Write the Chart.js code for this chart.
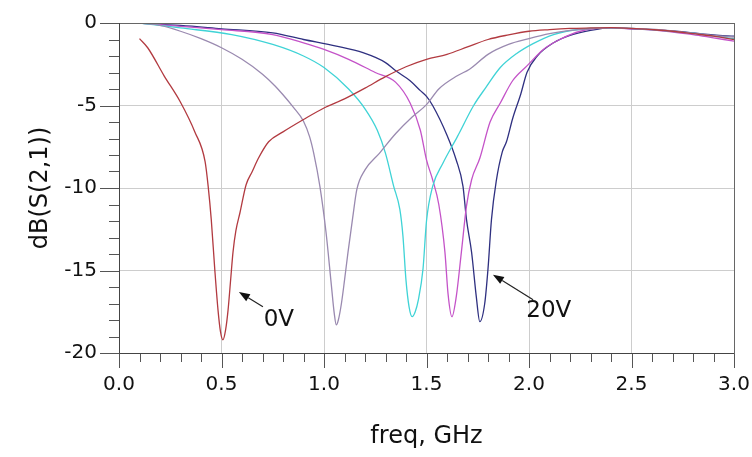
<!DOCTYPE html>
<html>
<head>
<meta charset="utf-8">
<script src="https://cdn.jsdelivr.net/npm/chart.js@4.4.1/dist/chart.umd.min.js"></script>
<style>
  html, body { margin: 0; padding: 0; background: #ffffff; }
  #wrap { width: 752px; height: 457px; position: relative; }
</style>
</head>
<body>
<div id="wrap"><canvas id="c" width="752" height="457"></canvas></div>
<script>
// ---------------- data ----------------
const seriesNames = ['0V', 'V2', 'V3', 'V4', '20V'];

const f0V = [0.1,0.14,0.22,0.3,0.37,0.42,0.435,0.45,0.467,0.483,0.495,0.507,0.52,0.532,0.545,0.556,0.57,0.59,0.62,0.65,0.68,0.73,0.8,0.9,1.0,1.1,1.2,1.3,1.4,1.5,1.6,1.7,1.8,1.9,2.0,2.1,2.2,2.3,2.4,2.5,2.6,2.7,2.8,2.9,3.0];
const s0V = [-0.95,-1.5,-3.2,-4.8,-6.6,-8.4,-9.9,-11.9,-14.9,-17.4,-18.7,-19.2,-18.6,-17.4,-15.5,-13.9,-12.6,-11.5,-9.8,-9.0,-8.2,-7.2,-6.6,-5.85,-5.15,-4.6,-3.95,-3.25,-2.65,-2.2,-1.9,-1.45,-1.0,-0.72,-0.5,-0.4,-0.33,-0.3,-0.28,-0.32,-0.4,-0.5,-0.65,-0.8,-1.0];

const fV2 = [0.1,0.2,0.3,0.4,0.5,0.6,0.7,0.76,0.8,0.85,0.9,0.93,0.95,0.98,1.01,1.036,1.05,1.06,1.07,1.085,1.1,1.117,1.14,1.16,1.2,1.27,1.35,1.43,1.5,1.56,1.65,1.71,1.8,1.9,2.0,2.1,2.2,2.3,2.4,2.5,2.6,2.7,2.8,2.9,3.0];
const sV2 = [0,-0.15,-0.5,-0.95,-1.5,-2.2,-3.1,-3.8,-4.35,-5.1,-5.95,-6.9,-7.9,-9.9,-12.7,-15.9,-17.6,-18.3,-18.0,-17.0,-15.6,-13.9,-11.8,-10.1,-8.9,-7.9,-6.7,-5.7,-4.95,-4.0,-3.2,-2.8,-1.9,-1.3,-0.95,-0.65,-0.45,-0.35,-0.3,-0.32,-0.38,-0.48,-0.62,-0.75,-0.85];

const fV3 = [0.1,0.3,0.55,0.75,0.9,1.0,1.12,1.2,1.26,1.3,1.34,1.37,1.385,1.4,1.415,1.43,1.445,1.46,1.483,1.5,1.53,1.58,1.65,1.73,1.79,1.86,1.94,2.02,2.12,2.25,2.4,2.5,2.6,2.7,2.8,2.9,3.0];
const sV3 = [0,-0.3,-0.7,-1.3,-2.0,-2.7,-4.0,-5.2,-6.5,-7.9,-9.9,-11.3,-12.9,-15.6,-17.2,-17.8,-17.5,-16.8,-14.9,-12.0,-9.9,-8.5,-6.9,-5.0,-3.9,-2.7,-1.85,-1.25,-0.7,-0.38,-0.3,-0.33,-0.4,-0.5,-0.62,-0.8,-0.95];

const fV4 = [0.1,0.3,0.5,0.75,0.9,1.0,1.12,1.25,1.35,1.42,1.47,1.5,1.53,1.56,1.59,1.605,1.624,1.645,1.67,1.695,1.72,1.76,1.81,1.86,1.92,1.99,2.07,2.15,2.25,2.4,2.5,2.6,2.7,2.8,2.9,3.0];
const sV4 = [0,-0.2,-0.4,-0.7,-1.2,-1.6,-2.2,-3.0,-3.6,-4.85,-6.5,-8.3,-9.5,-11.0,-13.9,-16.4,-17.8,-16.6,-13.9,-11.1,-9.5,-8.2,-6.0,-4.85,-3.5,-2.6,-1.6,-1.0,-0.5,-0.3,-0.35,-0.42,-0.55,-0.7,-0.9,-1.1];

const f20V = [0.1,0.3,0.5,0.75,0.9,1.06,1.19,1.3,1.35,1.42,1.47,1.5,1.53,1.6,1.645,1.678,1.695,1.72,1.743,1.76,1.784,1.8,1.817,1.84,1.87,1.89,1.92,1.96,1.99,2.04,2.12,2.2,2.3,2.4,2.5,2.6,2.7,2.8,2.9,3.0];
const s20V = [0,-0.15,-0.35,-0.6,-1.0,-1.4,-1.8,-2.4,-2.9,-3.5,-4.1,-4.45,-5.0,-6.8,-8.3,-9.9,-11.9,-13.9,-16.6,-18.1,-17.0,-14.9,-11.9,-9.6,-7.8,-7.2,-5.8,-4.3,-3.0,-2.0,-1.2,-0.75,-0.45,-0.3,-0.35,-0.4,-0.48,-0.6,-0.72,-0.8];

const xTickValues = [0.0, 0.5, 1.0, 1.5, 2.0, 2.5, 3.0];
const yTickValues = [0, -5, -10, -15, -20];
const xTitle = 'freq, GHz';
const yTitle = 'dB(S(2,1))';

// annotation labels: text + anchor (data coords) + arrow tip / tail (data coords)
const noteText = ['0V', '20V'];
const noteAt   = [[0.706, -17.98], [1.987, -17.44]];
const arrowTip = [[0.585, -16.3], [1.824, -15.25]];
const arrowTail= [[0.702, -17.2], [2.02, -16.77]];

// ---------------- styling ----------------
const colors = ['#b23a40', '#9a8ab0', '#3fd3d6', '#c453c8', '#2f3080'];
const FONT = "'DejaVu Sans', 'Liberation Sans', Arial, sans-serif";

function pts(fx, sy) { return fx.map((f, i) => ({ x: f, y: sy[i] })); }
const allF = [f0V, fV2, fV3, fV4, f20V];
const allS = [s0V, sV2, sV3, sV4, s20V];

const datasets = allF.map((fx, i) => ({
  label: seriesNames[i],
  data: pts(fx, allS[i]),
  borderColor: colors[i],
  borderWidth: 1.3,
  pointRadius: 0,
  fill: false,
  cubicInterpolationMode: 'monotone'
}));

const frameTicks = {
  id: 'frameTicks',
  afterDraw(chart) {
    const { ctx, chartArea: a, scales: { x, y } } = chart;
    ctx.save();
    ctx.lineWidth = 1;
    ctx.strokeStyle = '#555';
    ctx.beginPath();
    for (let v = -20; v <= 0; v += 1) {
      const py = Math.round(y.getPixelForValue(v)) + 0.5;
      const len = (v % 5 === 0) ? 19 : 10;
      ctx.moveTo(a.left - len, py); ctx.lineTo(a.left, py);
    }
    for (let k = 0; k <= 30; k++) {
      const px = Math.round(x.getPixelForValue(k / 10)) + 0.5;
      const len = (k % 5 === 0) ? 15 : 9;
      ctx.moveTo(px, a.bottom); ctx.lineTo(px, a.bottom + len);
    }
    ctx.stroke();
    ctx.strokeStyle = '#666';
    ctx.strokeRect(Math.round(a.left) + 0.5, Math.round(a.top) + 0.5,
                   Math.round(a.right - a.left), Math.round(a.bottom - a.top));
    ctx.strokeStyle = '#444';
    ctx.beginPath();
    ctx.moveTo(Math.round(a.left) + 0.5, a.top); ctx.lineTo(Math.round(a.left) + 0.5, a.bottom + 0.5);
    ctx.lineTo(a.right, Math.round(a.bottom) + 0.5);
    ctx.stroke();

    ctx.fillStyle = '#111';
    ctx.strokeStyle = '#222';
    ctx.lineWidth = 1.2;
    ctx.font = "23px " + FONT;
    ctx.textBaseline = 'middle';
    ctx.textAlign = 'left';
    noteText.forEach((t, i) => {
      ctx.fillText(t, x.getPixelForValue(noteAt[i][0]), y.getPixelForValue(noteAt[i][1]));
      const tx = x.getPixelForValue(arrowTip[i][0]), ty = y.getPixelForValue(arrowTip[i][1]);
      const sx = x.getPixelForValue(arrowTail[i][0]), sy = y.getPixelForValue(arrowTail[i][1]);
      const ang = Math.atan2(ty - sy, tx - sx);
      const hl = 11, hw = 4;
      const bx = tx - hl * Math.cos(ang), by = ty - hl * Math.sin(ang);
      ctx.beginPath(); ctx.moveTo(sx, sy); ctx.lineTo(bx, by); ctx.stroke();
      ctx.beginPath();
      ctx.moveTo(tx, ty);
      ctx.lineTo(bx + hw * Math.sin(ang), by - hw * Math.cos(ang));
      ctx.lineTo(bx - hw * Math.sin(ang), by + hw * Math.cos(ang));
      ctx.closePath(); ctx.fill();
    });
    ctx.restore();
  }
};

new Chart(document.getElementById('c'), {
  type: 'line',
  data: { datasets },
  plugins: [frameTicks],
  options: {
    responsive: false,
    animation: false,
    devicePixelRatio: 1,
    layout: { padding: { left: 0, top: 23, right: 18, bottom: 0 } },
    plugins: { legend: { display: false }, tooltip: { enabled: false } },
    scales: {
      x: {
        type: 'linear',
        min: 0, max: 3,
        afterBuildTicks: s => { s.ticks = xTickValues.map(v => ({ value: v })); },
        afterFit: s => { s.height = 104; s.paddingLeft = 0; s.paddingRight = 0; },
        grid: { color: '#cdcdcd', lineWidth: 1, drawTicks: false },
        border: { display: false },
        ticks: {
          padding: 20,
          color: '#111',
          maxRotation: 0,
          font: { family: FONT, size: 20 },
          callback: v => Number(v).toFixed(1)
        },
        title: {
          display: true, text: xTitle, color: '#111',
          font: { family: FONT, size: 24 },
          padding: { top: 0, bottom: 6 }
        }
      },
      y: {
        type: 'linear',
        min: -20, max: 0,
        afterBuildTicks: s => { s.ticks = yTickValues.map(v => ({ value: v })); },
        afterFit: s => { s.width = 119; s.paddingTop = 0; s.paddingBottom = 0; },
        grid: { color: '#cdcdcd', lineWidth: 1, drawTicks: false },
        border: { display: false },
        ticks: {
          padding: 22,
          color: '#111',
          font: { family: FONT, size: 20 },
          callback: v => String(v)
        },
        title: {
          display: true, text: yTitle, color: '#111',
          font: { family: FONT, size: 24 },
          padding: { top: 26, bottom: 0 }
        }
      }
    }
  }
});
</script>
</body>
</html>
